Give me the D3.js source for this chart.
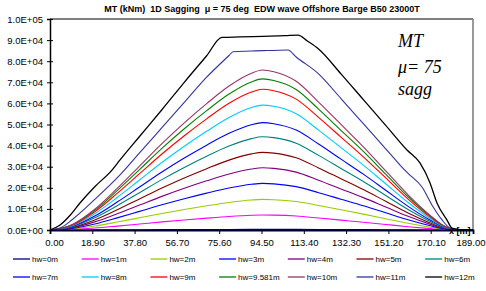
<!DOCTYPE html>
<html><head><meta charset="utf-8">
<script src="https://cdn.jsdelivr.net/npm/d3@7"></script>
<style>
html,body{margin:0;padding:0;background:#fff;}
svg{display:block;font-family:"Liberation Sans",Arial,sans-serif;}
</style></head>
<body><svg id="c" width="486" height="291"></svg>
<script>
// ---- data ----
const titleText = "MT (kNm)  1D Sagging  \u03bc = 75 deg  EDW wave Offshore Barge B50 23000T";
const xTickLabels = ["0.00","18.90","37.80","56.70","75.60","94.50","113.40","132.30","151.20","170.10","189.00"];
const xTickValues = [0,18.9,37.8,56.7,75.6,94.5,113.4,132.3,151.2,170.1,189];
const yTickValues = [0,10000,20000,30000,40000,50000,60000,70000,80000,90000,100000];
const yTickLabels = ["0.0E+00","1.0E+04","2.0E+04","3.0E+04","4.0E+04","5.0E+04","6.0E+04","7.0E+04","8.0E+04","9.0E+04","1.0E+05"];

const seriesNames = ["hw=0m","hw=1m","hw=2m","hw=3m","hw=4m","hw=5m","hw=6m","hw=7m","hw=8m","hw=9m","hw=9.581m","hw=10m","hw=11m","hw=12m"];
const seriesColors = ["#000080","#FF00FF","#99CC00","#0000FF","#800080","#800000","#008080","#0000FF","#00CCFF","#FF0000","#008000","#993366","#333399","#000000"];

const xStations = [0,5,10,20,30,40,50,60,70,80,90,95,100,110,120,130,140,150,160,170,175,179,183,189];
const hw0  = [0,3,10,40,80,120,160,200,240,270,295,300,297,280,240,200,156,110,66,27,10,2,1,0];
const hw1  = [0,70,250,920,1850,2840,3830,4760,5610,6390,6960,7100,7030,6600,5680,4690,3690,2630,1560,640,250,60,15,0];
const hw2  = [0,145,510,1890,3770,5800,7830,9720,11460,13050,14210,14500,14360,13490,11600,9570,7540,5370,3190,1310,510,120,30,0];
const hw3  = [0,220,770,2870,5750,8840,11930,14810,17460,19890,21660,22100,21880,20550,17680,14590,11490,8180,4860,1990,770,180,45,0];
const hw4  = [0,295,1030,3840,7670,11800,15930,19770,23310,26550,28910,29500,29210,27440,23600,19470,15340,10920,6490,2660,1030,240,60,0];
const hw5  = [0,370,1290,4780,9570,14720,19870,24660,29070,33120,36060,36800,36430,34220,29440,24290,19140,13620,8100,3310,1290,290,75,0];
const hw6  = [0,440,1550,5750,11490,17680,23870,29610,34920,39780,43320,44200,43760,41110,35360,29170,22980,16350,9720,3980,1550,350,90,0];
const hw7  = [0,510,1780,6620,13230,20360,27490,34100,40210,45810,49880,50900,50390,47340,40720,33590,26470,18830,11200,4580,1780,410,100,0];
const hw8  = [0,590,2070,7700,15390,23680,31970,39660,46770,53280,58020,59200,58610,55060,47360,39070,30780,21900,13020,5330,2070,470,120,0];
const hw9  = [0,670,2330,8670,17340,26680,36020,44690,52690,60030,65370,66700,66030,62030,53360,44020,34680,24680,14670,6000,2330,530,130,0];
const hw9581 = [0,720,2510,9310,18620,28640,38660,47970,56560,64440,70170,71600,70880,66590,57280,47260,37230,26490,15750,6440,2510,570,140,0];
const hw10 = [0,760,2650,9850,19710,30320,40930,50790,59880,68220,74280,75800,75040,70490,60640,50030,39420,28050,16680,6820,2650,610,150,0];

const xHw11 = [0,5,10,20,31.3,40,50,60,70,80,81.8,90,95,100,106.3,110,120,130,140,150,156.4,160,166.2,171.2,175,179,183,189];
const hw11  = [0,1200,5000,14500,26100,36500,48500,60500,72400,82700,84500,84800,85000,85100,85300,82000,74000,62300,50400,38500,30800,26800,20400,10900,5000,800,200,0];

const xHw12 = [0,4.5,9,13.4,20,27.7,31.3,40,50,60,70,76.8,85,95,105,110.8,115,120,130,140,150,159.5,165.3,169.8,172.9,177.4,179.6,183,189];
const hw12  = [0,2400,7000,12800,20500,28400,33200,44300,57000,70000,82600,91300,91500,91800,92100,92400,89600,85800,74000,61800,49600,37900,31800,22300,12800,4700,900,200,0];

const annotationLines = ["MT","\u03bc= 75","sagg"];

// ---- build ----
const seriesX = [xStations,xStations,xStations,xStations,xStations,xStations,xStations,xStations,xStations,xStations,xStations,xStations,xHw11,xHw12];
const seriesY = [hw0,hw1,hw2,hw3,hw4,hw5,hw6,hw7,hw8,hw9,hw9581,hw10,hw11,hw12];

const svg = d3.select("#c");
const L=50, R=473, T=19, B=230;
const x = d3.scaleLinear().domain([0,189]).range([L,R]);
const y = d3.scaleLinear().domain([0,100000]).range([B,T]);

svg.append("defs").append("clipPath").attr("id","clip")
  .append("rect").attr("x",L).attr("y",T-2).attr("width",R-L).attr("height",B-T+4);

// title
svg.append("text").attr("x",262).attr("y",12).attr("text-anchor","middle")
  .attr("font-size",9).attr("font-weight","bold").style("white-space","pre")
  .attr("xml:space","preserve").text(titleText);

// frame (top & right)
svg.append("line").attr("x1",L).attr("x2",R).attr("y1",T).attr("y2",T).attr("stroke","#000").attr("stroke-width",1);
svg.append("line").attr("x1",R).attr("x2",R).attr("y1",T).attr("y2",B).attr("stroke","#808080").attr("stroke-width",1.6);

// series
const g = svg.append("g").attr("clip-path","url(#clip)");
seriesY.forEach((vals,i)=>{
  const pts = vals.map((v,j)=>[seriesX[i][j],v]);
  const line = d3.line().x(d=>x(d[0])).y(d=>y(d[1])).curve(d3.curveMonotoneX);
  g.append("path").attr("d",line(pts)).attr("fill","none")
    .attr("stroke",seriesColors[i]).attr("stroke-width", i===13?1.3:1.1);
});

// y axis
const yAxis = d3.axisLeft(y).tickValues(yTickValues).tickFormat((d,i)=>yTickLabels[i]).tickSize(3).tickPadding(4);
const ya = svg.append("g").attr("transform",`translate(${L},0)`).call(yAxis);
ya.select(".domain").attr("stroke","#000").attr("stroke-width",1.5);
ya.selectAll(".tick line").attr("x1",3).attr("x2",-3).attr("stroke","#000");
ya.selectAll("text").attr("font-size",9.5).attr("font-family","Liberation Sans, Arial, sans-serif").attr("fill","#000");

// x axis
const xAxis = d3.axisBottom(x).tickValues(xTickValues).tickFormat((d,i)=>xTickLabels[i]).tickSize(4).tickPadding(5);
const xa = svg.append("g").attr("transform",`translate(0,${B})`).call(xAxis);
xa.select(".domain").attr("stroke","#000033").attr("stroke-width",1.8);
xa.selectAll(".tick line").attr("stroke","#000");
xa.selectAll("text").attr("font-size",9.5).attr("font-family","Liberation Sans, Arial, sans-serif").attr("fill","#000")
  .attr("dx",(d,i)=> i===0 ? 4 : (i===xTickValues.length-1 ? -2.5 : 0));

// x label
svg.append("text").attr("x",449).attr("y",234).attr("font-size",9).attr("font-weight","bold").text("x [m]");

// annotation
const ann = svg.append("text").attr("font-family","Liberation Serif, Times New Roman, serif")
  .attr("font-style","italic").attr("font-size",18).attr("fill","#000");
const annY=[47,73,95];
annotationLines.forEach((t,i)=>ann.append("tspan").attr("x",398).attr("y",annY[i]).text(t));

// legend
const lg = svg.append("g");
seriesNames.forEach((n,i)=>{
  const col=i%7, row=Math.floor(i/7);
  const lx=13+col*68.7, ly=259+row*18;
  lg.append("line").attr("x1",lx).attr("x2",lx+17).attr("y1",ly).attr("y2",ly)
    .attr("stroke",seriesColors[i]).attr("stroke-width",1.3);
  lg.append("text").attr("x",lx+19).attr("y",ly+3).attr("font-size",8).attr("fill","#000").text(n);
});
</script></body></html>
